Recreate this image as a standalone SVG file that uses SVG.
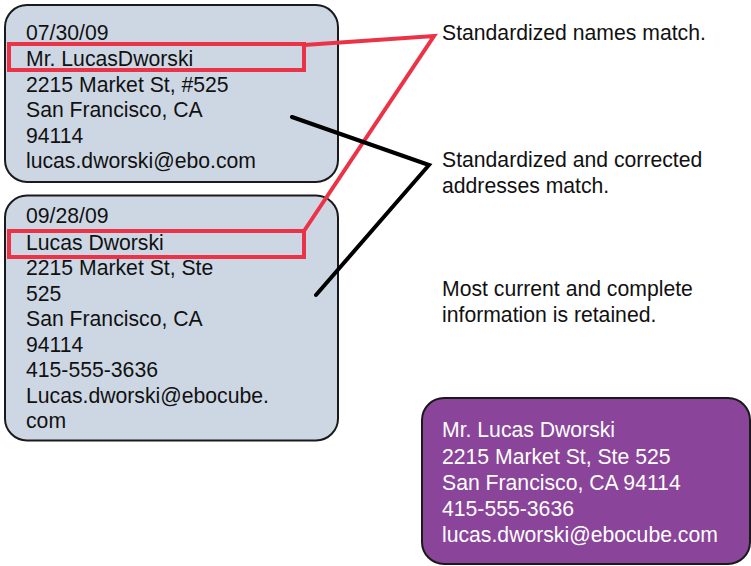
<svg xmlns="http://www.w3.org/2000/svg" width="751" height="566" viewBox="0 0 751 566">
<style>
.card{fill:#CDD7E4;stroke:#1a1a1a;stroke-width:2}
.result{fill:#8A4499;stroke:#1a1a1a;stroke-width:2}
.t{font-family:"Liberation Sans",Arial,Helvetica,sans-serif;font-size:21.2px;fill:#111}
.w{fill:#fff}
.hl{fill:none;stroke:#EC3246;stroke-width:4}
.red{fill:none;stroke:#EC3246;stroke-width:4;stroke-linejoin:miter}
.blk{fill:none;stroke:#000;stroke-width:4;stroke-linecap:round;stroke-linejoin:miter}
</style>
<rect width="751" height="566" fill="#fff"/>
<g id="record1">
<rect class="card" x="5" y="5" width="333" height="177" rx="22"/>
<text class="t" x="26" y="40">07/30/09</text>
<text class="t" x="26" y="66">Mr. LucasDworski</text>
<text class="t" x="26" y="91.5">2215 Market St, #525</text>
<text class="t" x="26" y="117">San Francisco, CA</text>
<text class="t" x="26" y="142.5">94114</text>
<text class="t" x="26" y="168">lucas.dworski@ebo.com</text>
<rect class="hl" x="9" y="44" width="295" height="26"/>
</g>
<g id="record2">
<rect class="card" x="5" y="195.5" width="333" height="245" rx="22"/>
<text class="t" x="26" y="223">09/28/09</text>
<text class="t" x="26" y="249.5">Lucas Dworski</text>
<text class="t" x="26" y="275">2215 Market St, Ste</text>
<text class="t" x="26" y="300.5">525</text>
<text class="t" x="26" y="326">San Francisco, CA</text>
<text class="t" x="26" y="351.5">94114</text>
<text class="t" x="26" y="377">415-555-3636</text>
<text class="t" x="26" y="402.5">Lucas.dworski@ebocube.</text>
<text class="t" x="26" y="428">com</text>
<rect class="hl" x="9" y="231" width="295" height="26"/>
</g>
<g id="connectors">
<polyline class="red" points="304,45 434,36 304,231"/>
<polyline class="blk" points="292,117 429,165 316,295"/>
</g>
<g id="label-names">
<text class="t" x="442" y="40">Standardized names match.</text>
</g>
<g id="label-addresses">
<text class="t" x="442" y="167">Standardized and corrected</text>
<text class="t" x="442" y="193">addresses match.</text>
</g>
<g id="label-retained">
<text class="t" x="442" y="296">Most current and complete</text>
<text class="t" x="442" y="322">information is retained.</text>
</g>
<g id="result">
<rect class="result" x="422" y="398" width="328" height="166" rx="22"/>
<text class="t w" x="442" y="437">Mr. Lucas Dworski</text>
<text class="t w" x="442" y="463.5">2215 Market St, Ste 525</text>
<text class="t w" x="442" y="489.5">San Francisco, CA 94114</text>
<text class="t w" x="442" y="515.5">415-555-3636</text>
<text class="t w" x="442" y="541.5">lucas.dworski@ebocube.com</text>
</g>
</svg>
